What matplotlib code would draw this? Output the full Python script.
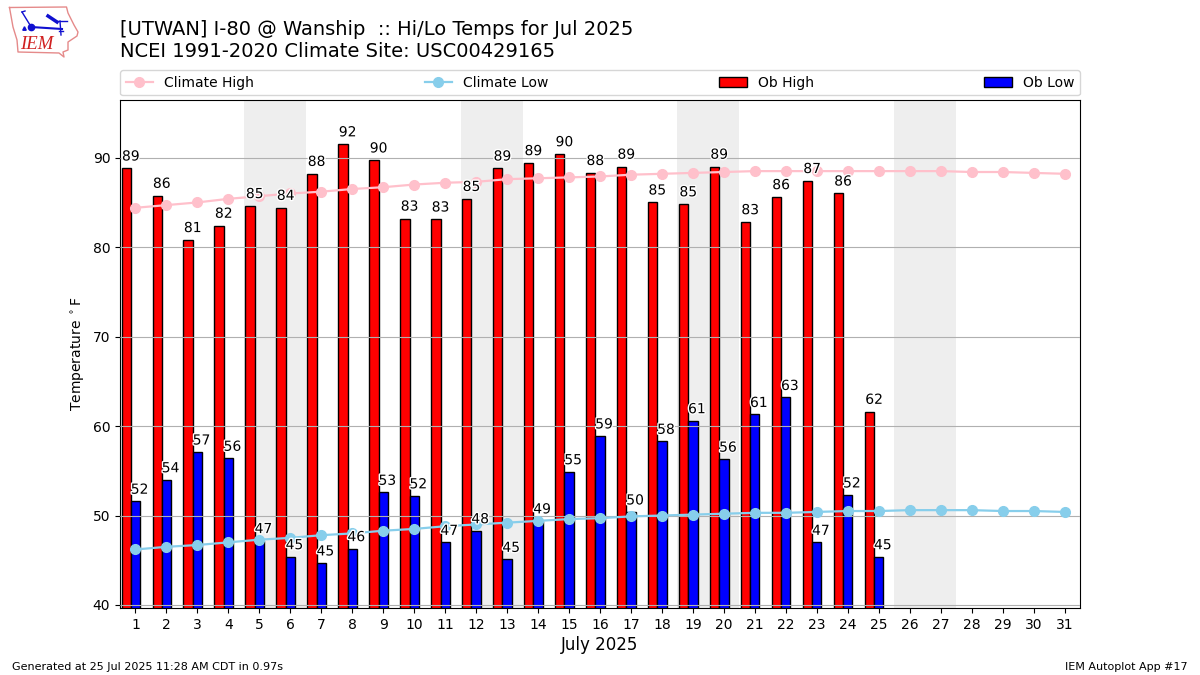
import matplotlib
matplotlib.use("Agg")
import matplotlib.pyplot as plt
import matplotlib.patheffects as pe
import numpy as np

days = list(range(1, 32))
ob_high = [88.8, 85.75, 80.8, 82.4, 84.6, 84.4, 88.2, 91.5, 89.7, 83.2, 83.1, 85.4, 88.8,
           89.4, 90.4, 88.3, 89.0, 85.0, 84.8, 89.0, 82.8, 85.6, 87.4, 86.0, 61.6]
ob_low = [51.6, 54.0, 57.1, 56.4, 47.2, 45.4, 44.7, 46.3, 52.6, 52.2, 47.0, 48.3, 45.1,
          49.4, 54.9, 58.9, 50.4, 58.3, 60.6, 56.3, 61.3, 63.2, 47.0, 52.3, 45.4]
climate_high = [84.4, 84.7, 85.0, 85.4, 85.7, 86.0, 86.2, 86.5, 86.7, 87.0, 87.2, 87.3, 87.6,
                87.7, 87.8, 87.9, 88.1, 88.2, 88.3, 88.4, 88.5, 88.5, 88.5, 88.5, 88.5, 88.5,
                88.5, 88.4, 88.4, 88.3, 88.2]
climate_low = [46.2, 46.5, 46.7, 47.0, 47.3, 47.5, 47.8, 48.0, 48.3, 48.5, 48.8, 49.0, 49.2,
               49.4, 49.6, 49.7, 49.9, 50.0, 50.1, 50.2, 50.3, 50.3, 50.4, 50.5, 50.5, 50.6,
               50.6, 50.6, 50.5, 50.5, 50.4]
weekends = [5, 12, 19, 26]

fig = plt.figure(figsize=(12, 6.75), dpi=100)
ax = fig.add_axes([120 / 1200, 1 - 608 / 675, 960 / 1200, 508 / 675])

for start in weekends:
    ax.axvspan(start - 0.5, start + 1.5, color="#eeeeee", zorder=0, lw=0)

hx = np.array(days[:len(ob_high)]) - 0.3
lx = np.array(days[:len(ob_low)])
bars1 = ax.bar(hx, ob_high, width=0.3, color="red", edgecolor="k", label="Ob High", zorder=2)
bars2 = ax.bar(lx, ob_low, width=0.3, color="blue", edgecolor="k", label="Ob Low", zorder=2)
ax.plot(days, climate_high, marker="o", ms=7, lw=1.6, color="pink", label="Climate High", zorder=3)
ax.plot(days, climate_low, marker="o", ms=7, lw=1.6, color="skyblue", label="Climate Low", zorder=3)

halo = [pe.withStroke(linewidth=2, foreground="white")]
for x, val in zip(hx, ob_high):
    ax.text(x + 0.15, val + 0.55, f"{val:.0f}", ha="center", va="bottom", fontsize=10,
            path_effects=halo, zorder=4)
for x, val in zip(lx, ob_low):
    ax.text(x + 0.13, val + 0.5, f"{val:.0f}", ha="center", va="bottom", fontsize=10,
            path_effects=halo, zorder=4)

ax.set_xlim(0.5, 31.5)
ax.set_ylim(39.66, 96.45)
ax.set_xticks(days)
ax.set_yticks(range(40, 100, 10))
ax.yaxis.grid(True, color="#b0b0b0", zorder=2.5)
ax.set_axisbelow(False)
ax.tick_params(axis="both", labelsize=10)
ax.set_ylabel(r"Temperature $^\circ$F", fontsize=10)
ax.set_xlabel("July 2025", fontsize=12, labelpad=3)

handles, labels = ax.get_legend_handles_labels()
order = [labels.index(n) for n in ["Climate High", "Climate Low", "Ob High", "Ob Low"]]
ax.legend([handles[i] for i in order], [labels[i] for i in order], ncol=4, mode="expand",
          loc="lower left", bbox_to_anchor=(0, 1.009, 1, 0.05), borderaxespad=0, fontsize=10)

fig.text(120 / 1200, 1 - 35 / 675, "[UTWAN] I-80 @ Wanship  :: Hi/Lo Temps for Jul 2025", fontsize=14)
fig.text(120 / 1200, 1 - 57 / 675, "NCEI 1991-2020 Climate Site: USC00429165", fontsize=14)
fig.text(12 / 1200, 1 - 670 / 675, "Generated at 25 Jul 2025 11:28 AM CDT in 0.97s", fontsize=8)
fig.text(1188 / 1200, 1 - 670 / 675, "IEM Autoplot App #17", fontsize=8, ha="right")

# logo, drawn by hand in pixel space of the figure
logo = fig.add_axes([0, 1 - 65 / 675, 90 / 1200, 65 / 675])
logo.set_xlim(0, 90)
logo.set_ylim(65, 0)
logo.axis("off")
outline_x = [9.5, 66.5, 68, 74, 78, 77, 68, 68, 63, 64, 59, 18, 17, 13, 9.5]
outline_y = [7.5, 7, 13, 25, 32, 36, 42, 50, 52, 57, 53, 52, 40, 27, 7.5]
logo.plot(outline_x, outline_y, color="#e58a8a", lw=1)
logo.plot([31, 62], [27, 29], color="#1010d0", lw=1.5)
logo.plot([31], [27], marker="o", ms=4.5, color="#1010d0")
logo.plot([22, 30], [12, 25], color="#1010d0", lw=1)
logo.plot([22, 25], [12, 11], color="#1010d0", lw=1)
logo.plot([48, 57], [16, 22], color="#1010d0", lw=2.5)
logo.plot([57, 67], [21, 21], color="#1010d0", lw=1)
logo.plot([60, 61], [21, 35], color="#1010d0", lw=1)
logo.plot([59, 63], [31, 31], color="#1010d0", lw=1)
logo.plot([24], [28], marker="^", ms=2.5, color="#1010d0")
logo.text(37, 44.5, "IEM", color="#d02020", fontsize=13.5, family="Liberation Serif",
          style="italic", ha="center", va="center")

fig.savefig("out.png", dpi=100)
